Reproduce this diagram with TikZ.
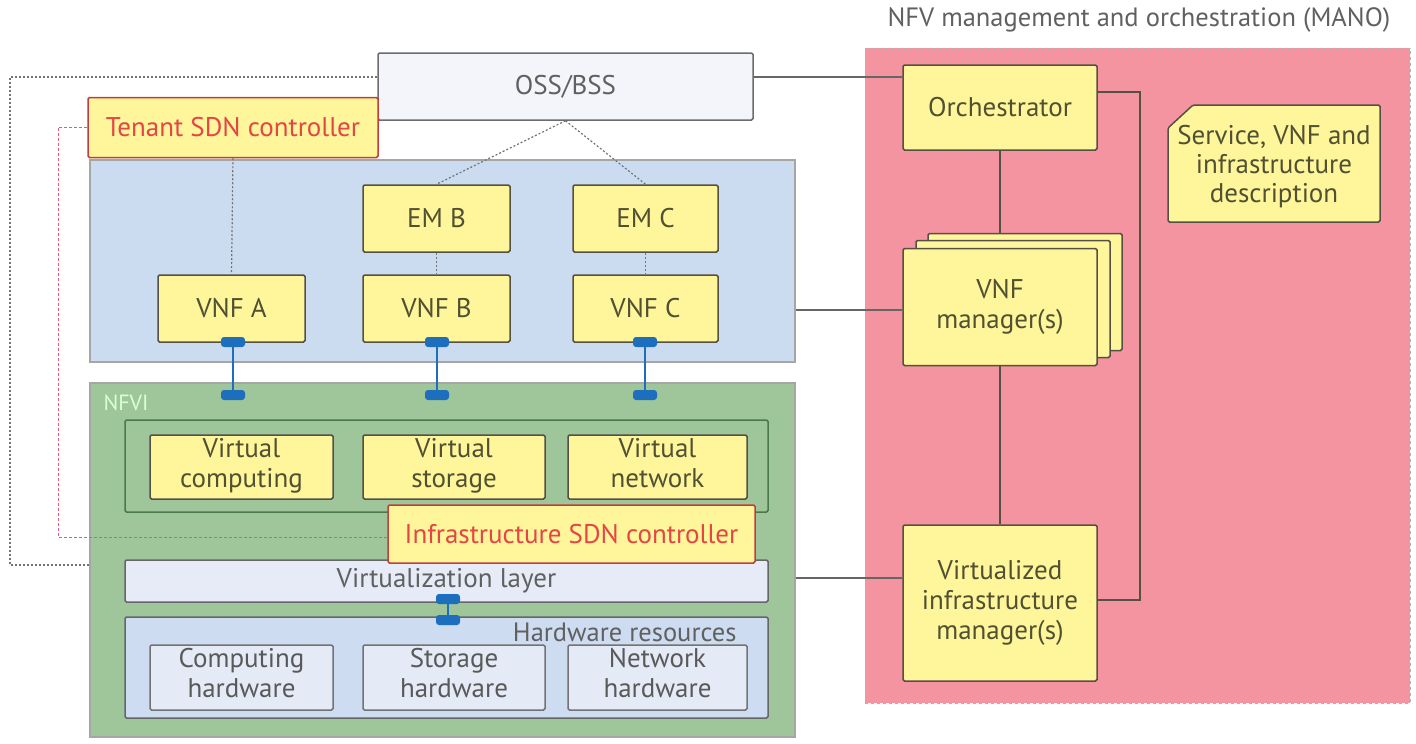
\documentclass[tikz,border=0pt]{standalone}
\usepackage{fontspec}
\setmainfont{PT Sans}
\definecolor{pinkfill}{RGB}{244,148,160}
\definecolor{yel}{RGB}{255,245,154}
\definecolor{vnfarea}{RGB}{204,220,240}
\definecolor{nfvigreen}{RGB}{158,198,154}
\definecolor{hwarea}{RGB}{206,220,241}
\definecolor{hwitem}{RGB}{228,234,246}
\definecolor{vlayer}{RGB}{230,235,247}
\definecolor{ossfill}{RGB}{244,245,250}
\definecolor{txt}{RGB}{80,80,50}
\definecolor{bord}{RGB}{85,80,70}
\definecolor{sdnred}{RGB}{228,70,70}
\definecolor{pill}{RGB}{30,110,190}
\definecolor{pinkline}{RGB}{225,90,120}
\begin{document}
\begin{tikzpicture}[x={(1pt,0)},y={(0,-1pt)},
  base/.style={draw=bord,line width=1.5pt,rounded corners=1.5pt,inner sep=0pt,align=center,
    font=\fontsize{27}{30}\selectfont,text=txt},
  ybox/.style={base,fill=yel},
  sdnbox/.style={base,fill=yel,draw=sdnred!85!black,text=sdnred},
  hwbox/.style={base,fill=hwitem,draw=gray!90!black,text=gray!70!black},
  area/.style={draw=gray!70,line width=1.2pt,inner sep=0pt},
  pillst/.style={fill=pill,rounded corners=3pt,minimum width=24pt,minimum height=10pt,inner sep=0pt},
  conn/.style={draw=bord,line width=1.3pt},
  dotconn/.style={draw=gray!90!black,line width=1.2pt,dash pattern=on 2pt off 2pt},
]
\useasboundingbox (0,0) rectangle (1416,744);
\coordinate (c1) at (10,77);
\coordinate (c2) at (10,565);
% MANO
\node[font=\fontsize{26.5}{28}\selectfont,text=gray!75!black] (manot) at (1139,20) {NFV management and orchestration (MANO)};
\node[fill=pinkfill,draw=gray!60,dashed,line width=0.8pt,minimum width=545,minimum height=655,inner sep=0pt] (mano) at (1137.5,375.5) {};
% OSS/BSS
\node[base,fill=ossfill,draw=gray!85!black,text=gray!75!black,minimum width=375,minimum height=67] (oss) at (565.5,86.5) {OSS/BSS};
% VNF area
\node[area,fill=vnfarea,minimum width=705,minimum height=202] (vnfarea) at (442.5,261) {};
% NFVI
\node[area,fill=nfvigreen,minimum width=705,minimum height=354] (nfvi) at (442.5,560) {};
\node[anchor=west,text=white!85!green,font=\fontsize{22}{24}\selectfont] (nfvil) at (100,403) {NFVI};
\node[draw=green!25!black!70,line width=1.5pt,rounded corners=1.5pt,minimum width=643,minimum height=92,inner sep=0pt] (vres) at (446.5,466) {};
% dotted outer line
\draw[dotconn] (oss.west |- 0,77) -- (c1) -- (c2) -- (nfvi.west |- 0,565);
\node[sdnbox,minimum width=290,minimum height=60] (tsdn) at (233,127.5) {Tenant SDN controller};
% VNFs / EMs
\node[ybox,minimum width=147,minimum height=67] (emb) at (436.5,218.5) {EM B};
\node[ybox,minimum width=145,minimum height=67] (emc) at (645.5,218.5) {EM C};
\node[ybox,minimum width=147,minimum height=67] (vnfa) at (231.5,308.5) {VNF A};
\node[ybox,minimum width=147,minimum height=67] (vnfb) at (436.5,308.5) {VNF B};
\node[ybox,minimum width=145,minimum height=67] (vnfc) at (645.5,308.5) {VNF C};
\draw[dotconn] (oss.south) -- (emb.north);
\draw[dotconn] (oss.south) -- (emc.north);
\draw[dotconn] (tsdn.south) -- (vnfa.north);
\draw[dotconn] (emb.south) -- (vnfb.north);
\draw[dotconn] (emc.south) -- (vnfc.north);
% virtual resources
\node[ybox,minimum width=183,minimum height=64] (vcomp) at (241.5,467) {Virtual\\computing\strut};
\node[ybox,minimum width=182,minimum height=64] (vstor) at (454,467) {Virtual\\storage\strut};
\node[ybox,minimum width=179,minimum height=64] (vnet) at (657.5,467) {Virtual\\network\strut};
% virtualization layer
\node[base,fill=vlayer,draw=gray!80!black,text=gray!75!black,minimum width=643,minimum height=42] (vlay) at (446.5,581) {Virtualization layer};
% hardware
\node[base,fill=hwarea,draw=gray!80!black,minimum width=643,minimum height=101] (hw) at (446.5,667.5) {};
\node[anchor=east,text=gray!75!black,font=\fontsize{26.5}{28}\selectfont] (hwl) at (740,632) {Hardware resources};
\node[hwbox,minimum width=183,minimum height=65] (chw) at (241.5,677.5) {Computing\\hardware\strut};
\node[hwbox,minimum width=182,minimum height=65] (shw) at (454,677.5) {Storage\\hardware\strut};
\node[hwbox,minimum width=179,minimum height=65] (nhw) at (657.5,677.5) {Network\\hardware\strut};
% pills
\node[pillst] (pa1) at (233,342) {};
\node[pillst] (pb1) at (437,342) {};
\node[pillst] (pc1) at (645,342) {};
\node[pillst] (pa2) at (233,395) {};
\node[pillst] (pb2) at (437,395) {};
\node[pillst] (pc2) at (645,395) {};
\node[pillst] (pv1) at (448,599) {};
\node[pillst] (pv2) at (448,620) {};
\draw[pill,line width=1.5pt] (pa1) -- (pa2);
\draw[pill,line width=1.5pt] (pb1) -- (pb2);
\draw[pill,line width=1.5pt] (pc1) -- (pc2);
\draw[pill,line width=2pt] (pv1) -- (pv2);
% infrastructure SDN controller
\node[sdnbox,minimum width=367,minimum height=58] (isdn) at (571.5,534) {Infrastructure SDN controller};
\coordinate (p1) at (58,127.5);
\coordinate (p2) at (58,537);
\draw[draw=pinkline,line width=1pt,dash pattern=on 3pt off 2pt] (tsdn.west) -- (p1) -- (p2) -- (isdn.west |- p2);
% MANO boxes
\node[ybox,minimum width=194,minimum height=85] (orch) at (1000,107.5) {Orchestrator};
\node[ybox,minimum width=194,minimum height=117] (vnfm3) at (1025,292) {};
\node[ybox,minimum width=194,minimum height=117] (vnfm2) at (1013,299) {};
\node[ybox,minimum width=194,minimum height=117] (vnfm) at (1000,307) {VNF\\manager(s)};
\node[ybox,minimum width=194,minimum height=156] (vim) at (1000,603) {Virtualized\\infrastructure\\manager(s)};
\draw[base,fill=yel] (1193,105) -- (1380,105) -- (1380,222) -- (1168,222) -- (1168,128) -- cycle;
\node[align=center,text=txt,font=\fontsize{27}{29}\selectfont] (desc) at (1274,167) {Service, VNF and\\infrastructure\\description};
% connectors
\coordinate (b1) at (1140,92);
\coordinate (b2) at (1140,600);
\draw[conn] (orch.east |- b1) -- (b1) -- (b2) -- (vim.east |- b2);
\draw[conn] (orch.south) -- (vnfm3.north -| orch.south);
\draw[conn] (vnfm.south) -- (vim.north);
\draw[conn,draw=gray!80!black] (oss.east |- 0,77) -- (orch.west |- 0,77);
\draw[conn,draw=gray!80!black] (vnfarea.east |- 0,310) -- (vnfm.west |- 0,310);
\draw[conn,draw=gray!80!black] (nfvi.east |- 0,578) -- (vim.west |- 0,578);
\end{tikzpicture}
\end{document}
